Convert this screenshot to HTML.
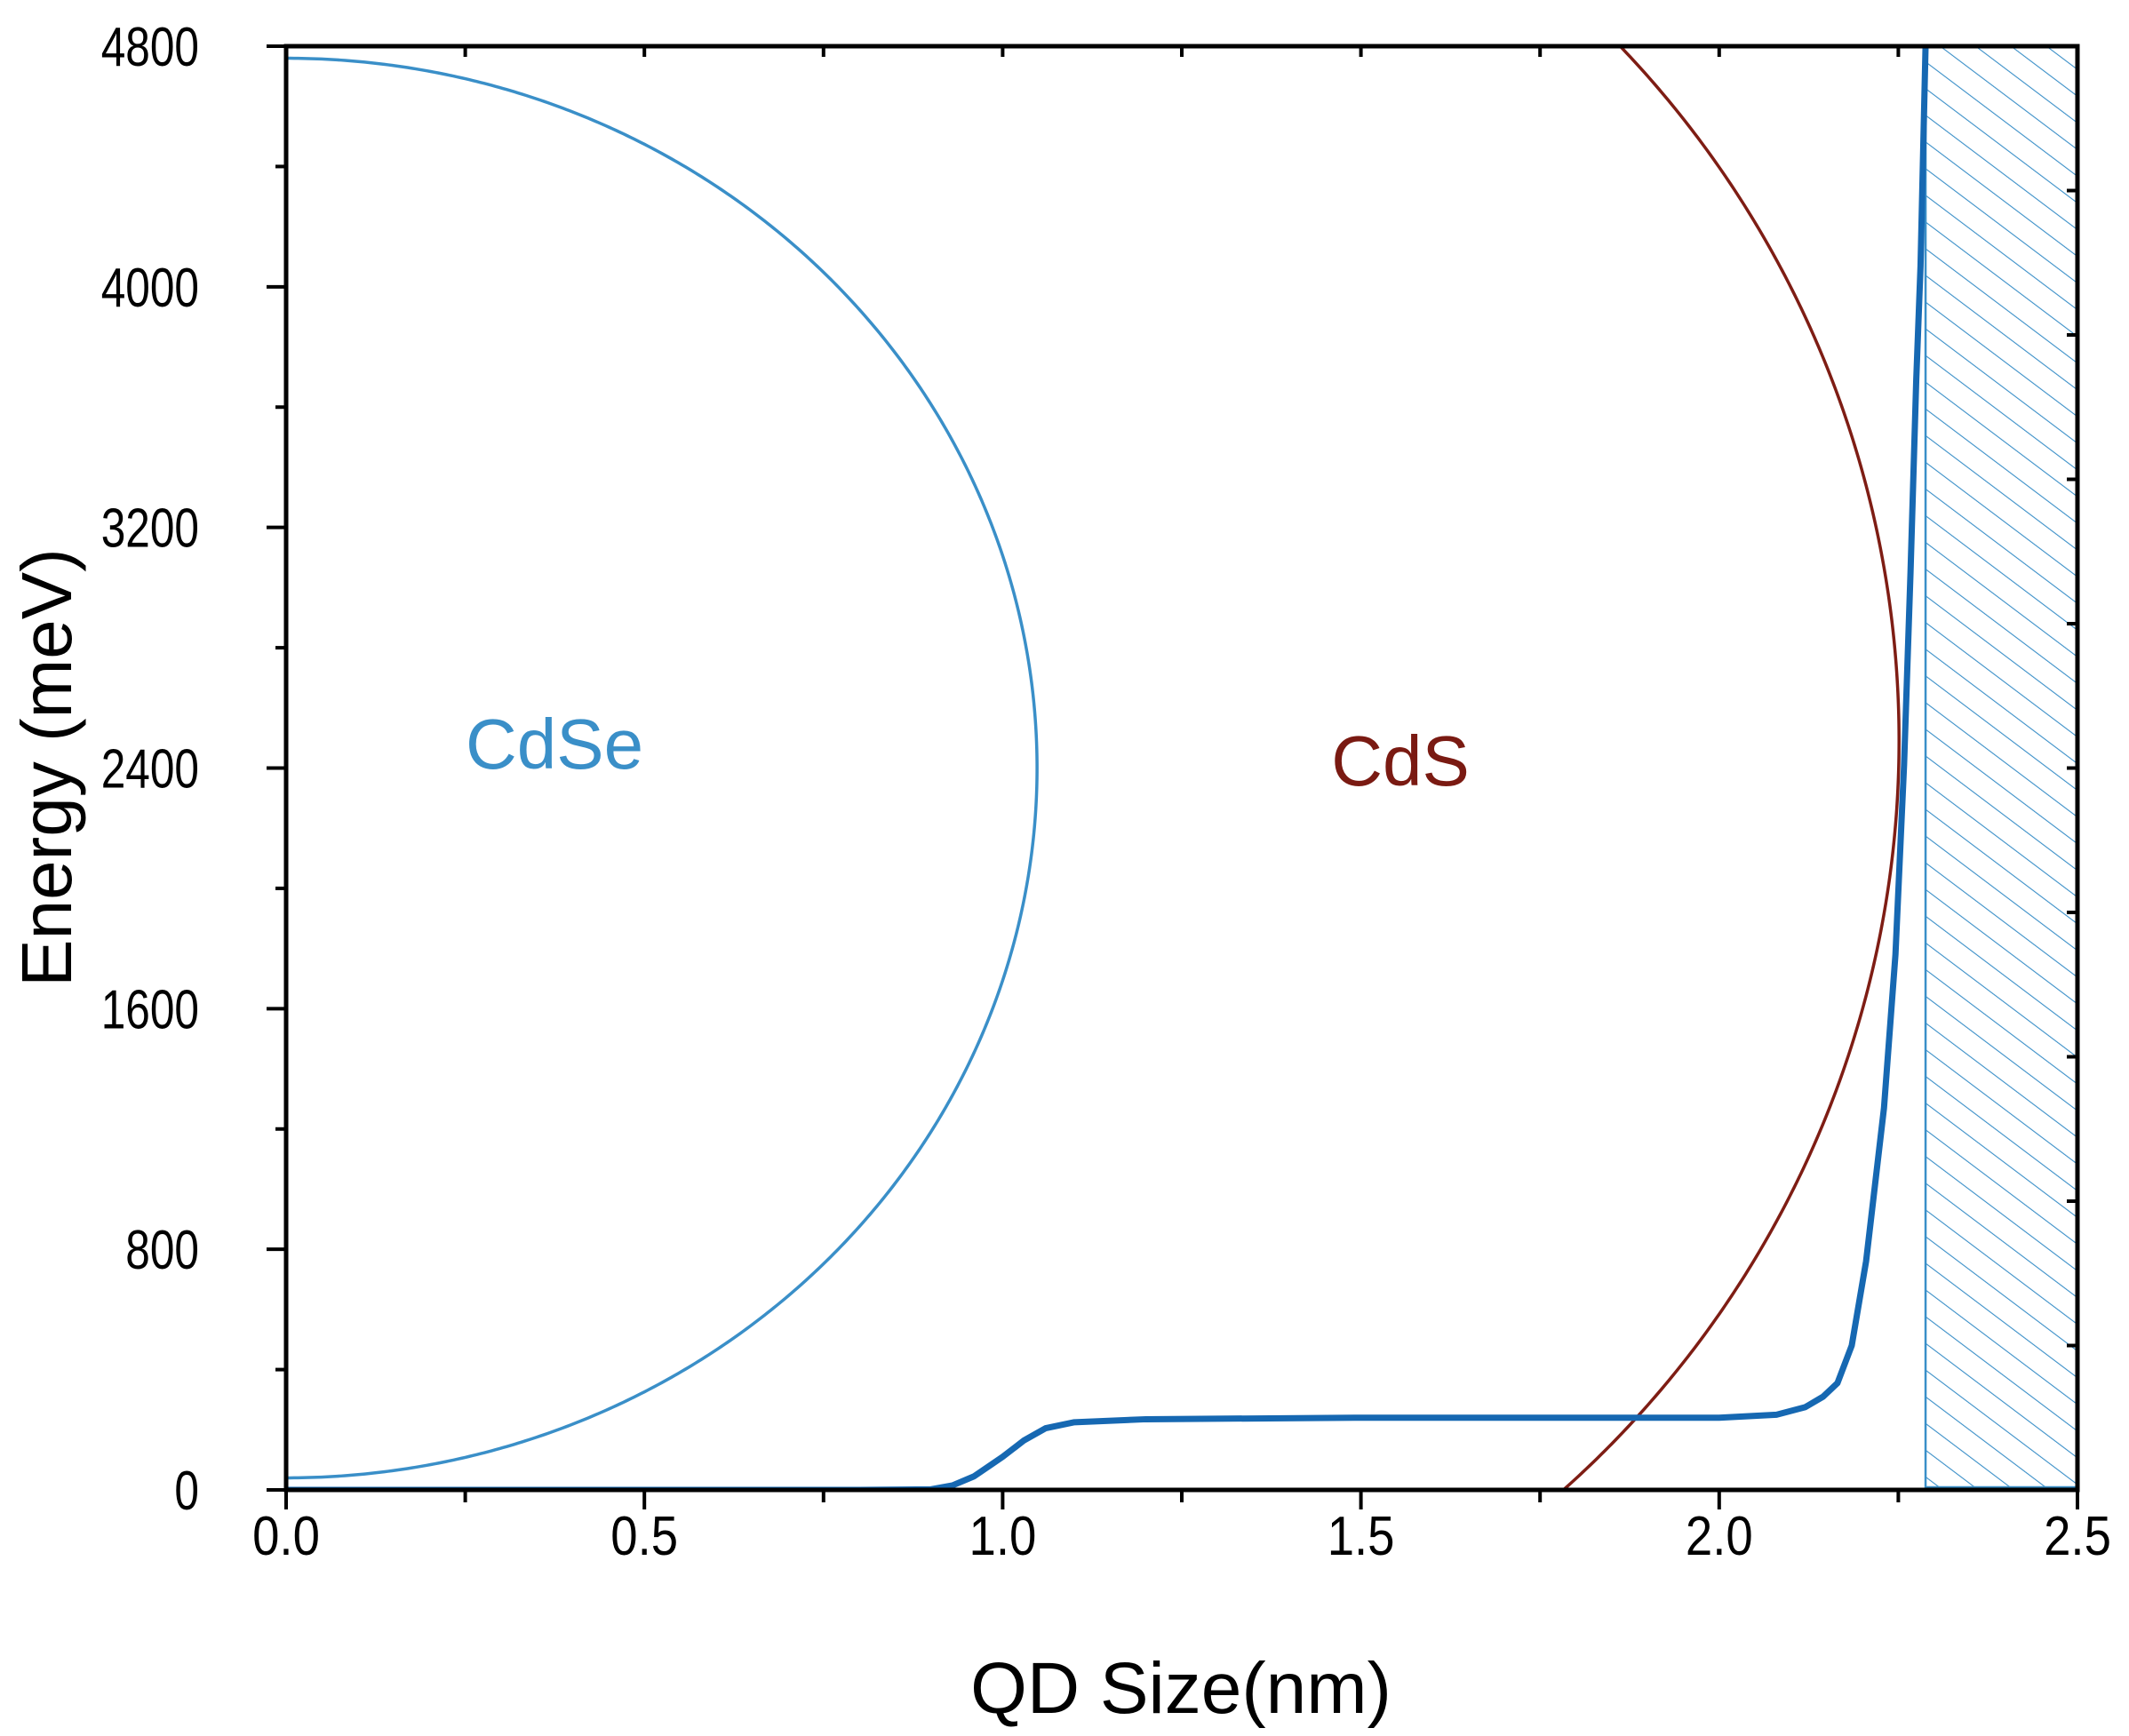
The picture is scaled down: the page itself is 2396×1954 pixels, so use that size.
<!DOCTYPE html>
<html><head><meta charset="utf-8"><style>
html,body{margin:0;padding:0;background:#fff;}
svg{display:block;font-family:"Liberation Sans",Arial,sans-serif;}
</style></head><body>
<svg id="chart" width="2396" height="1954" viewBox="0 0 2396 1954" xmlns="http://www.w3.org/2000/svg">
<defs>
<pattern id="hatch" patternUnits="userSpaceOnUse" width="24" height="24" patternTransform="rotate(-53)">
<line x1="0" y1="0" x2="0" y2="24" stroke="#3a8fc8" stroke-width="2.2"/>
</pattern>
<clipPath id="plotclip"><rect x="322" y="52" width="2016" height="1625"/></clipPath>
</defs>
<g id="marks" clip-path="url(#plotclip)"></g>
<g id="axes"></g>
<text x="624" y="865" font-size="80" fill="#3a8fc8" text-anchor="middle">CdSe</text>
<text x="1576" y="884" font-size="80" fill="#7a1a12" text-anchor="middle">CdS</text>
<text x="1329" y="1928" font-size="82" fill="#000" text-anchor="middle">QD Size(nm)</text>
<text x="0" y="0" font-size="80" fill="#000" text-anchor="middle" transform="translate(80,864) rotate(-90)">Energy (meV)</text>
</svg>
<script>
const xTicks = [0, 0.5, 1.0, 1.5, 2.0, 2.5];
const xTickLabels = ["0.0", "0.5", "1.0", "1.5", "2.0", "2.5"];
const yTicks = [0, 800, 1600, 2400, 3200, 4000, 4800];
const yTickLabels = ["0", "800", "1600", "2400", "3200", "4000", "4800"];
const bandX = [0, 0.5, 0.8, 0.9, 0.93, 0.96, 1.0, 1.03, 1.06, 1.1, 1.2, 1.5, 2.0, 2.08, 2.12, 2.145, 2.165, 2.185, 2.205, 2.23, 2.246, 2.258, 2.267, 2.275, 2.281, 2.288];
const bandY = [0, 0, 0, 2, 15, 45, 110, 165, 205, 225, 235, 240, 240, 250, 275, 310, 355, 480, 760, 1270, 1780, 2410, 3050, 3690, 4070, 4800];
const cdseEllipse = [0, 2400, 1.048, 2360];   // cx(nm), cy(meV), rx(nm), ry(meV)
const cdsEllipse = [0.849, 2491, 1.402, 3339];
const hatchRegion = [2.288, 2.5, 0, 4800];

const X0 = 322, X1 = 2338, Y0 = 1677, Y1 = 52;
const sx = v => X0 + (v - 0) / 2.5 * (X1 - X0);
const sy = v => Y0 - v / 4800 * (Y0 - Y1);
const NS = "http://www.w3.org/2000/svg";
const marks = document.getElementById('marks');
const axes = document.getElementById('axes');
function mk(tag, attrs, parent) {
  const e = document.createElementNS(NS, tag);
  for (const k in attrs) e.setAttribute(k, attrs[k]);
  parent.appendChild(e);
  return e;
}
const h = mk('rect', {x: sx(hatchRegion[0]), y: sy(hatchRegion[3]), width: sx(hatchRegion[1]) - sx(hatchRegion[0]), height: sy(hatchRegion[2]) - sy(hatchRegion[3]) - 3, fill: 'url(#hatch)', stroke: '#3a8fc8', 'stroke-width': 2.5}, marks);



function arc(p) {
  let d = '';
  for (let i = 0; i <= 600; i++) {
    const t = -Math.PI / 2 + Math.PI * i / 600;
    const xv = p[0] + p[2] * Math.cos(t);
    const yv = p[1] + p[3] * Math.sin(t);
    d += (i ? 'L' : 'M') + sx(xv).toFixed(2) + ',' + sy(yv).toFixed(2);
  }
  return d;
}
const a1 = mk('path', {d: arc(cdseEllipse), fill: 'none', stroke: '#3a8fc8', 'stroke-width': 3.5}, marks);


const a2 = mk('path', {d: arc(cdsEllipse), fill: 'none', stroke: '#7e1d14', 'stroke-width': 3.5}, marks);



let bd = '';
bandX.forEach((xv, i) => { bd += (i ? 'L' : 'M') + sx(xv).toFixed(2) + ',' + sy(bandY[i]).toFixed(2); });
const bl = mk('path', {d: bd, fill: 'none', stroke: '#1668b2', 'stroke-width': 7, 'stroke-linejoin': 'round'}, marks);



const fr = mk('rect', {x: X0, y: Y1, width: X1 - X0, height: Y0 - Y1, fill: 'none', stroke: '#000', 'stroke-width': 5}, axes);



for (let v = 0; v <= 2.5001; v += 0.25) {
  const major = Math.abs(v * 2 - Math.round(v * 2)) < 1e-6;
  const t = mk('line', {x1: sx(v), x2: sx(v), y1: Y0, y2: Y0 + (major ? 22 : 14), stroke: '#000', 'stroke-width': 4}, axes);
  
  
  const tt = mk('line', {x1: sx(v), x2: sx(v), y1: Y1, y2: Y1 + 12, stroke: '#000', 'stroke-width': 4}, axes);
  
  
}
xTicks.forEach((v, i) => {
  const l = mk('text', {x: 0, y: 0, 'font-size': 62, 'text-anchor': 'middle', fill: '#000', transform: 'translate(' + sx(v) + ',1750) scale(0.88,1)'}, axes);
  l.textContent = xTickLabels[i];
  
  
});
for (let v = 0; v <= 4800; v += 400) {
  const major = v % 800 === 0;
  const t = mk('line', {x1: X0 - (major ? 22 : 12), x2: X0, y1: sy(v), y2: sy(v), stroke: '#000', 'stroke-width': 4}, axes);
  
  
}
for (let i = 1; i < 10; i++) {
  const yy = Y0 - i * (Y0 - Y1) / 10;
  const t = mk('line', {x1: X1 - 12, x2: X1, y1: yy, y2: yy, stroke: '#000', 'stroke-width': 4}, axes);
  
  
}
yTicks.forEach((v, i) => {
  const l = mk('text', {x: 0, y: 0, 'font-size': 62, 'text-anchor': 'end', fill: '#000', transform: 'translate(224,' + (sy(v) + 22) + ') scale(0.8,1)'}, axes);
  l.textContent = yTickLabels[i];
  
  
});
</script>
</body></html>
